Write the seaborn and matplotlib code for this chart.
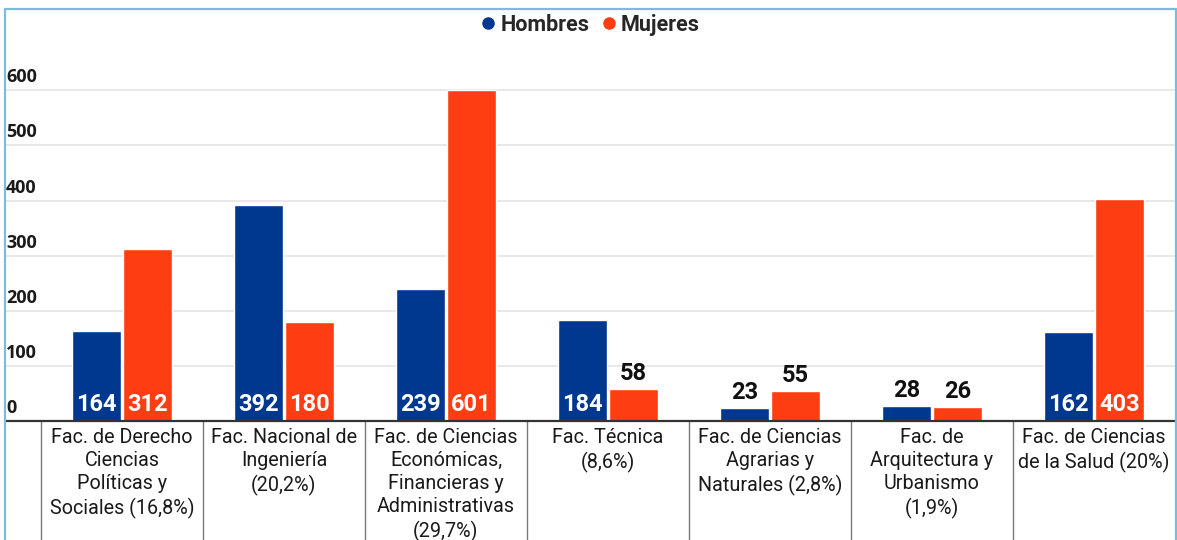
import matplotlib
matplotlib.use("Agg")
import matplotlib.pyplot as plt
import seaborn as sns
import pandas as pd
from matplotlib.lines import Line2D

# ---- data ----
categories = [
    "Fac. de Derecho\nCiencias\nPolíticas y\nSociales (16,8%)",
    "Fac. Nacional de\nIngeniería\n(20,2%)",
    "Fac. de Ciencias\nEconómicas,\nFinancieras y\nAdministrativas\n(29,7%)",
    "Fac. Técnica\n(8,6%)",
    "Fac. de Ciencias\nAgrarias y\nNaturales (2,8%)",
    "Fac. de\nArquitectura y\nUrbanismo\n(1,9%)",
    "Fac. de Ciencias\nde la Salud (20%)",
]
series = ["Hombres", "Mujeres"]
hombres = [164, 392, 239, 184, 23, 28, 162]
mujeres = [312, 180, 601, 58, 55, 26, 403]
yticks = [0, 100, 200, 300, 400, 500, 600]

BLUE = "#00388f"
ORANGE = "#ff3d12"

df = pd.DataFrame({
    "cat": categories * 2,
    "serie": [series[0]] * len(categories) + [series[1]] * len(categories),
    "value": hombres + mujeres,
})

W, H = 1177, 540
sns.set_style("white")
plt.rcParams["font.family"] = ["Roboto", "DejaVu Sans"]

fig = plt.figure(figsize=(W / 100, H / 100), dpi=100)
base_y = 421
top_y = 40.8
ax = fig.add_axes([5 / W, (H - base_y) / H, 1170 / W, (base_y - top_y) / H])

sns.barplot(data=df, x="cat", y="value", hue="serie", order=categories,
            hue_order=series, palette=[BLUE, ORANGE], saturation=1,
            width=0.63, gap=0.04, legend=False, ax=ax, zorder=2)

ax.set_xlim(-0.5 - 36 / 162, len(categories) - 0.5)
ax.set_ylim(0, 690)
for s in ax.spines.values():
    s.set_visible(False)
ax.set_xlabel("")
ax.set_ylabel("")
ax.set_xticks([])
ax.set_yticks([])

# gridlines and labels
ytr = ax.get_yaxis_transform()
for v in yticks:
    if v > 0:
        ax.axhline(v, color="#e8e8e8", lw=1.4, zorder=0)
    ax.annotate(str(v), (0, v), xycoords=ytr, xytext=(1, 4),
                textcoords="offset pixels", ha="left", va="bottom",
                fontsize=13, fontweight="bold", family=["Open Sans", "DejaVu Sans"],
                color="#1a1a1a")
ax.axhline(0, color="#333333", lw=1.6, zorder=4, clip_on=False)

# category labels and separators
xtr = ax.get_xaxis_transform()
for i, c in enumerate(categories):
    ax.annotate(c, (i, 0), xycoords=xtr, xytext=(0, -7), textcoords="offset pixels",
                ha="center", va="top", fontsize=14.2, color="#1a1a1a",
                linespacing=1.27)
    ax.axvline(i - 0.5, ymin=-0.4, ymax=0, color="#7a7a7a", lw=1.0, clip_on=False)

# value labels
for cont, vals in zip(ax.containers, [hombres, mujeres]):
    for bar, v in zip(cont, vals):
        x = bar.get_x() + bar.get_width() / 2
        if v >= 100:
            ax.annotate(str(v), (x, 0), xytext=(0, 5), textcoords="offset pixels",
                        ha="center", va="bottom", color="white", fontsize=17,
                        fontweight="bold", zorder=5)
        else:
            ax.annotate(str(v), (x, v), xytext=(0, 4), textcoords="offset pixels",
                        ha="center", va="bottom", color="#111111", fontsize=17,
                        fontweight="bold", zorder=5)

# legend
handles = [Line2D([], [], marker="o", ls="", color=BLUE, markersize=8),
           Line2D([], [], marker="o", ls="", color=ORANGE, markersize=8)]
fig.legend(handles, series, loc="center", bbox_to_anchor=(0.5, 1 - 25 / H), ncol=2,
           frameon=False, handletextpad=0.05, columnspacing=0.4, handlelength=1.0,
           prop={"size": 15.5, "weight": "bold", "family": ["Roboto", "DejaVu Sans"]})

# outer border (light blue)
bc = "#7dbadf"
def fl(x0, y0, x1, y1):
    fig.add_artist(Line2D([x0 / W, x1 / W], [1 - y0 / H, 1 - y1 / H],
                          color=bc, lw=1.6, transform=fig.transFigure))
fl(5, 9, 1176, 9)
fl(5, 9, 5, 540)
fl(1176, 9, 1176, 540)

fig.savefig("out.png", dpi=100)
